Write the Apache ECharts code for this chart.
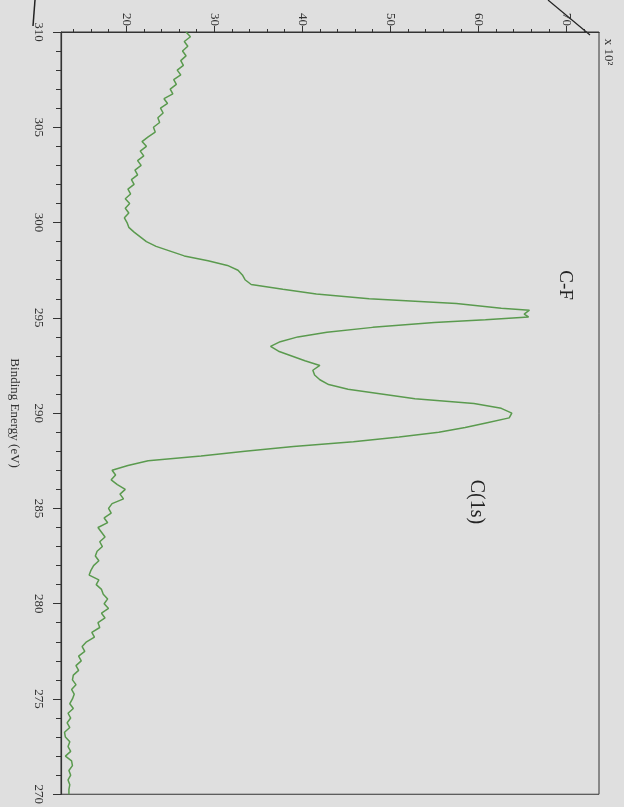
<!DOCTYPE html>
<html>
<head>
<meta charset="utf-8">
<script src="https://cdn.jsdelivr.net/npm/echarts@6/dist/echarts.min.js"></script>
<style>
  html, body { margin: 0; padding: 0; background: #dfdfdf; }
  #chart { width: 624px; height: 807px; }
</style>
</head>
<body>
<div id="chart"></div>
<script>
// binding energy (eV) top to bottom
var energy = [
    310, 309.75, 309.5, 309.25, 309, 308.75, 308.5, 308.25, 308, 307.75,
    307.5, 307.25, 307, 306.75, 306.5, 306.25, 306, 305.75, 305.5, 305.25,
    305, 304.75, 304.5, 304.25, 304, 303.75, 303.5, 303.25, 303, 302.75,
    302.5, 302.25, 302, 301.75, 301.5, 301.25, 301, 300.75, 300.5, 300.25,
    300, 299.75, 299.5, 299.25, 299, 298.75, 298.5, 298.25, 298, 297.75,
    297.5, 297.25, 297, 296.75, 296.5, 296.25, 296, 295.75, 295.5, 295.4,
    295.2, 295.05, 294.9, 294.75, 294.5, 294.25, 294, 293.75, 293.5, 293.25,
    293, 292.75, 292.5, 292.25, 292, 291.75, 291.5, 291.25, 291, 290.75,
    290.5, 290.25, 290, 289.75, 289.5, 289.25, 289, 288.75, 288.5, 288.25,
    288, 287.75, 287.5, 287.25, 287, 286.75, 286.5, 286.25, 286, 285.75,
    285.5, 285.25, 285, 284.75, 284.5, 284.25, 284, 283.75, 283.5, 283.25,
    283, 282.75, 282.5, 282.25, 282, 281.75, 281.5, 281.25, 281, 280.75,
    280.5, 280.25, 280, 279.75, 279.5, 279.25, 279, 278.75, 278.5, 278.25,
    278, 277.75, 277.5, 277.25, 277, 276.75, 276.5, 276.25, 276, 275.75,
    275.5, 275.25, 275, 274.75, 274.5, 274.25, 274, 273.75, 273.5, 273.25,
    273, 272.75, 272.5, 272.25, 272, 271.75, 271.5, 271.25, 271, 270.75,
    270.5, 270.25, 270
];
// counts x 10^2
var counts = [
    26.8, 27.3, 26.6, 27.0, 26.4, 26.8, 26.2, 26.5, 25.8, 26.2,
    25.4, 25.7, 25.0, 25.3, 24.3, 24.7, 23.9, 24.2, 23.6, 23.8,
    23.1, 23.3, 22.5, 21.8, 22.3, 21.6, 22.0, 21.3, 21.7, 21.0,
    21.3, 20.6, 20.9, 20.2, 20.5, 19.9, 20.4, 19.9, 20.3, 19.8,
    20.1, 20.3, 20.9, 21.6, 22.3, 23.4, 25.0, 26.6, 29.3, 31.5,
    32.7, 33.2, 33.5, 34.2, 37.8, 41.6, 47.6, 57.5, 62.6, 65.8,
    65.2, 65.7, 60.8, 55.0, 48.0, 42.8, 39.5, 37.5, 36.4, 37.3,
    38.8, 40.3, 42.0, 41.2, 41.4, 42.0, 43.0, 45.2, 49.0, 52.8,
    59.5, 62.6, 63.8, 63.5, 61.0, 58.5, 55.5, 51.0, 45.8, 39.0,
    33.5, 28.5, 22.5, 20.2, 18.4, 18.8, 18.3, 19.0, 19.9, 19.3,
    19.7, 18.4, 18.0, 18.3, 17.5, 17.9, 16.8, 17.2, 17.6, 17.0,
    17.3, 16.7, 16.5, 16.9, 16.3, 16.0, 15.8, 16.9, 16.6, 17.2,
    17.4, 17.9, 17.5, 18.0, 17.2, 17.6, 16.8, 17.0, 16.1, 16.4,
    15.5, 15.0, 15.3, 14.6, 14.9, 14.3, 14.6, 14.0, 13.9, 14.3,
    13.8, 14.1, 13.9, 13.6, 14.0, 13.4, 13.7, 13.3, 13.6, 13.0,
    13.1, 13.6, 13.4, 13.7, 13.1, 13.8, 13.9, 13.5, 13.7, 13.4,
    13.6, 13.5, 13.5
];
var countLabels = [20, 30, 40, 50, 60, 70];
var countMinor = [14, 16, 18, 22, 24, 26, 28, 32, 34, 36, 38, 42, 44, 46, 48,
    52, 54, 56, 58, 62, 64, 66, 68, 72];

var chart = echarts.init(document.getElementById('chart'));
var serif = '"Liberation Serif", "DejaVu Serif", serif';
var ink = '#333';

var pairs = energy.map(function (e, i) { return [counts[i], e]; });

// the scan is turned a quarter clockwise: counts run along the top, energy down the left
var option = {
    backgroundColor: '#dfdfdf',
    animation: false,
    grid: {
        left: 55, right: 25, top: 32, bottom: 12,
        show: true, borderColor: ink, borderWidth: 1, backgroundColor: 'transparent'
    },
    xAxis: [{
        type: 'value', position: 'top', min: 12.6, max: 73.7,
        axisLine: { lineStyle: { color: ink, width: 1.2 } },
        axisTick: { customValues: countLabels, length: 6, lineStyle: { color: ink } },
        axisLabel: {
            customValues: countLabels, rotate: 90, margin: 6,
            fontFamily: serif, fontSize: 13, color: ink
        },
        splitLine: { show: false }
    }, {
        type: 'value', position: 'top', min: 12.6, max: 73.7,
        axisLine: { show: false },
        axisTick: { customValues: countMinor, length: 3, lineStyle: { color: ink } },
        axisLabel: { show: false },
        splitLine: { show: false }
    }],
    yAxis: {
        type: 'value', min: 270, max: 310, interval: 5,
        name: 'Binding Energy (eV)', nameLocation: 'middle', nameRotate: -90, nameGap: 40,
        nameTextStyle: { fontFamily: serif, fontSize: 13, color: ink },
        axisLine: { lineStyle: { color: ink, width: 1.2 } },
        axisTick: { length: 8, lineStyle: { color: ink } },
        minorTick: { show: true, splitNumber: 5, length: 5, lineStyle: { color: ink } },
        axisLabel: { rotate: -90, margin: 16, fontFamily: serif, fontSize: 13, color: ink },
        splitLine: { show: false }
    },
    series: [{
        type: 'line',
        data: pairs,
        showSymbol: false,
        lineStyle: { color: '#5a9a4e', width: 1.5 }
    }],
    graphic: [
        {
            type: 'text', x: 565, y: 285, rotation: -Math.PI / 2,
            style: { text: 'C-F', fontFamily: serif, fontSize: 19, fill: '#222', textAlign: 'center', textVerticalAlign: 'middle' }
        },
        {
            type: 'text', x: 476, y: 502, rotation: -Math.PI / 2,
            style: { text: 'C(1s)', fontFamily: serif, fontSize: 20, fill: '#222', textAlign: 'center', textVerticalAlign: 'middle' }
        },
        {
            type: 'text', x: 608, y: 52, rotation: -Math.PI / 2,
            style: { text: 'x 10²', fontFamily: serif, fontSize: 13, fill: ink, textAlign: 'center', textVerticalAlign: 'middle' }
        },
        // pen strokes on the scanned page
        { type: 'line', shape: { x1: 35, y1: 0, x2: 33, y2: 26 }, style: { stroke: '#222', lineWidth: 1.5 } },
        { type: 'line', shape: { x1: 548, y1: 0, x2: 590, y2: 35 }, style: { stroke: '#222', lineWidth: 1.2 } }
    ]
};
chart.setOption(option);
</script>
</body>
</html>
